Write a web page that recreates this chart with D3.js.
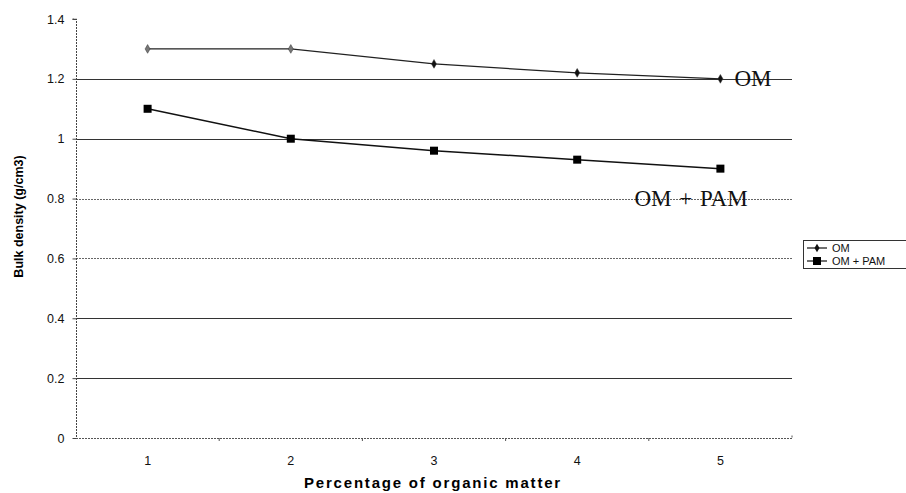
<!DOCTYPE html>
<html><head><meta charset="utf-8">
<script src="https://cdn.jsdelivr.net/npm/d3@7"></script>
<style>body{margin:0;background:#fff}svg{display:block}</style>
</head><body>
<script>
const categories = [1, 2, 3, 4, 5];
const omValues = [1.3, 1.3, 1.25, 1.22, 1.2];
const omPamValues = [1.1, 1.0, 0.96, 0.93, 0.9];
const yTicks = [0, 0.2, 0.4, 0.6, 0.8, 1, 1.2, 1.4];
const seriesNames = ["OM", "OM + PAM"];

const W = 906, H = 493;
const L = 76, R = 792, T = 19, B = 438;
const svg = d3.select("body").append("svg").attr("width", W).attr("height", H);

const x = d3.scaleBand().domain(categories).range([L, R]);
const y = d3.scaleLinear().domain([0, 1.4]).range([B, T]);
const cx = d => x(d) + x.bandwidth() / 2;
const sans = "Arial, Liberation Sans, sans-serif";
const serif = "Liberation Serif, Times New Roman, serif";

// gridlines
const solid = new Set([0.2, 0.4, 1, 1.2]);
svg.append("g").selectAll("line").data(yTicks.filter(v => v > 0 && v < 1.4)).join("line")
  .attr("x1", L).attr("x2", R)
  .attr("y1", d => Math.round(y(d)) + 0.5).attr("y2", d => Math.round(y(d)) + 0.5)
  .attr("stroke", d => solid.has(d) ? "#333" : "#666")
  .attr("stroke-width", 1)
  .attr("stroke-dasharray", d => solid.has(d) ? null : "2,1");

// y axis
const yAxis = d3.axisLeft(y).tickValues(yTicks).tickSize(4).tickPadding(8)
  .tickFormat(d => d === 0 ? "0" : d3.format("")(+d.toFixed(1)));
const gy = svg.append("g").attr("transform", `translate(${L + 0.5},0)`).call(yAxis);
gy.select(".domain").attr("stroke", "#444").attr("stroke-dasharray", "2,1").attr("d", `M-4,${y(1.4)}H0V${B + 0.5}`);
gy.selectAll(".tick line").attr("stroke", "#444");
gy.selectAll("text").attr("font-family", sans).attr("font-size", 12.5).attr("fill", "#111");

// x axis
const xAxis = d3.axisBottom(x).tickSize(0).tickPadding(18);
const gx = svg.append("g").attr("transform", `translate(0,${B + 0.5})`).call(xAxis);
gx.select(".domain").attr("stroke", "#555").attr("stroke-dasharray", "2,1").attr("d", `M${L},0H${R}V-3`);
gx.selectAll("text").attr("font-family", sans).attr("font-size", 12.5).attr("fill", "#111");
svg.append("g").selectAll("line").data(categories.slice(1)).join("line")
  .attr("x1", d => x(d)).attr("x2", d => x(d))
  .attr("y1", B).attr("y2", B + 3).attr("stroke", "#555");

// lines
const line = d3.line().x((d, i) => cx(categories[i])).y(d => y(d));
svg.append("path").datum(omValues).attr("d", line).attr("fill", "none").attr("stroke", "#222").attr("stroke-width", 1.2);
svg.append("path").datum(omPamValues).attr("d", line).attr("fill", "none").attr("stroke", "#111").attr("stroke-width", 1.5);

// markers
const diamond = d3.symbol().type(d3.symbolDiamond).size(22);
svg.append("g").selectAll("path").data(omValues).join("path")
  .attr("transform", (d, i) => `translate(${cx(categories[i])},${y(d)})`)
  .attr("d", diamond).attr("fill", (d, i) => i < 2 ? "#777" : "#111").attr("stroke", "#333").attr("stroke-width", 0.5);
svg.append("g").selectAll("rect").data(omPamValues).join("rect")
  .attr("x", (d, i) => cx(categories[i]) - 4).attr("y", d => y(d) - 4)
  .attr("width", 8).attr("height", 8).attr("fill", "#000");

// annotations
svg.append("text").attr("x", cx(5) + 14).attr("y", y(omValues[4]) + 7)
  .attr("font-family", serif).attr("font-size", 23).attr("fill", "#111").text("OM");
svg.append("text").attr("x", cx(5) - 86).attr("y", y(0.8) + 7)
  .attr("font-family", serif).attr("font-size", 23).attr("word-spacing", 2).attr("fill", "#111").text("OM + PAM");

// axis titles
svg.append("text").attr("x", (L + R) / 2 - 1).attr("y", 488).attr("text-anchor", "middle")
  .attr("font-family", sans).attr("font-weight", "bold").attr("font-size", 15).attr("letter-spacing", 1.8).text("Percentage of organic matter");
svg.append("text").attr("transform", `translate(23,${(T + B) / 2 - 12}) rotate(-90)`).attr("text-anchor", "middle")
  .attr("font-family", sans).attr("font-weight", "bold").attr("font-size", 12.5).text("Bulk density (g/cm3)");

// legend
const lg = svg.append("g").attr("transform", "translate(803,240)");
lg.append("rect").attr("x", 0.5).attr("y", 0.5).attr("width", 110).attr("height", 28).attr("fill", "#fff").attr("stroke", "#333");
seriesNames.forEach((name, i) => {
  const yy = 8 + i * 13;
  lg.append("line").attr("x1", 4).attr("x2", 24).attr("y1", yy).attr("y2", yy).attr("stroke", "#111").attr("stroke-width", 1.2);
  if (i === 0) lg.append("path").attr("transform", `translate(14,${yy})`).attr("d", diamond).attr("fill", "#111");
  else lg.append("rect").attr("x", 10).attr("y", yy - 4).attr("width", 8).attr("height", 8).attr("fill", "#000");
  lg.append("text").attr("x", 29).attr("y", yy + 4).attr("font-family", sans).attr("font-size", 11).attr("fill", "#111").text(name);
});
</script>
</body></html>
